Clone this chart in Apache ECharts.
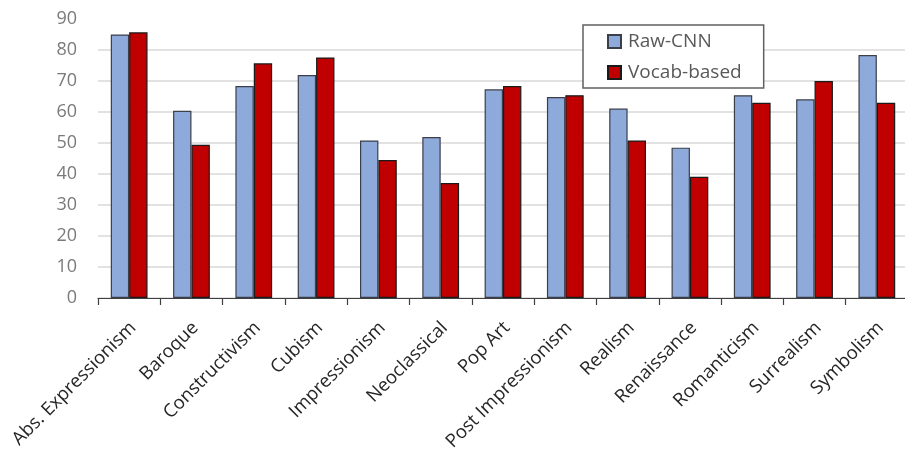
<!DOCTYPE html>
<html>
<head>
<meta charset="utf-8">
<script src="https://cdn.jsdelivr.net/npm/echarts@6/dist/echarts.min.js"></script>
<style>
  html, body { margin: 0; padding: 0; background: #fff; }
  #chart { width: 905px; height: 450px; }
</style>
</head>
<body>
<div id="chart"></div>
<script>
// Art style categories
const categories = [
  'Abs. Expressionism', 'Baroque', 'Constructivism', 'Cubism', 'Impressionism',
  'Neoclassical', 'Pop Art', 'Post Impressionism', 'Realism', 'Renaissance',
  'Romanticism', 'Surrealism', 'Symbolism'
];

// Accuracy per style (%)
const rawCnn = [85.0, 60.4, 68.4, 71.9, 50.8, 51.9, 67.3, 64.8, 61.1, 48.5, 65.4, 64.1, 78.4];
const vocabBased = [85.7, 49.4, 75.7, 77.6, 44.5, 37.1, 68.4, 65.4, 50.8, 39.1, 63.0, 70.0, 63.0];

// Y axis range
const yMin = 0;
const yMax = 90;
const yStep = 10;

const FONT = '"Open Sans", "Noto Sans", sans-serif';

const chart = echarts.init(document.getElementById('chart'), null, { renderer: 'canvas' });

// gridline colours per tick; the top one is hidden
const splitColors = [];
for (let v = yMin; v <= yMax; v += yStep) {
  splitColors.push(v === yMax ? 'rgba(0,0,0,0)' : '#d9d9d9');
}

chart.setOption({
  animation: false,
  backgroundColor: '#ffffff',
  grid: { left: 98, right: -3, top: 19, bottom: 152, containLabel: false, outerBoundsMode: 'none' },
  legend: {
    orient: 'vertical',
    left: 583,
    top: 25,
    padding: [7, 22, 6, 24],
    itemGap: 12,
    itemWidth: 13,
    itemHeight: 13,
    icon: 'rect',
    borderColor: '#606060',
    borderWidth: 1.5,
    borderRadius: 0,
    backgroundColor: '#ffffff',
    textStyle: { fontFamily: FONT, fontSize: 19, color: '#595959', padding: [0, 0, 0, 2] },
    data: ['Raw-CNN', 'Vocab-based']
  },
  xAxis: {
    type: 'category',
    data: categories,
    axisLine: { show: true, lineStyle: { color: '#404040', width: 1.2 } },
    axisTick: { show: true, length: 7, lineStyle: { color: '#404040', width: 1.2 } },
    axisLabel: {
      rotate: 45,
      interval: 0,
      margin: 23,
      verticalAlign: 'top',
      lineHeight: 11,
      fontFamily: FONT,
      fontSize: 18.5,
      color: '#262626'
    },
    splitLine: { show: false }
  },
  yAxis: {
    type: 'value',
    min: yMin,
    max: yMax,
    interval: yStep,
    axisLine: { show: false },
    axisTick: { show: false },
    axisLabel: {
      margin: 21,
      fontFamily: FONT,
      fontSize: 18,
      color: '#7a7a7a'
    },
    splitLine: { show: true, lineStyle: { color: splitColors, width: 1.5 } }
  },
  series: [
    {
      name: 'Raw-CNN',
      type: 'bar',
      data: rawCnn,
      barGap: '0%',
      barCategoryGap: '41%',
      itemStyle: { color: '#8eaadb', borderColor: '#3a3f4a', borderWidth: 1.2 }
    },
    {
      name: 'Vocab-based',
      type: 'bar',
      data: vocabBased,
      barGap: '0%',
      barCategoryGap: '41%',
      itemStyle: { color: '#c00000', borderColor: '#1a1a1a', borderWidth: 1.2 }
    }
  ]
});
</script>
</body>
</html>
